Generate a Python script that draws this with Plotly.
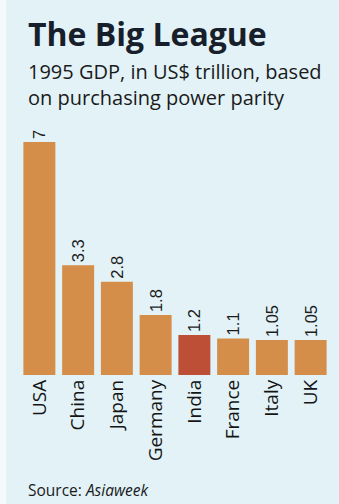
import plotly.graph_objects as go

countries = ["USA", "China", "Japan", "Germany", "India", "France", "Italy", "UK"]
gdp = [7, 3.3, 2.8, 1.8, 1.2, 1.1, 1.05, 1.05]
gdp_labels = ["7", "3.3", "2.8", "1.8", "1.2", "1.1", "1.05", "1.05"]

ORANGE = "#d58d4a"
RED = "#be4f37"
BG = "#e2f2f7"
colors = [RED if c == "India" else ORANGE for c in countries]

W, H = 339, 504
ML, MR, MT, MB = 20, 9, 120, 129

fig = go.Figure(
    go.Bar(
        x=countries,
        y=gdp,
        marker=dict(color=colors, line=dict(width=0)),
        text=gdp_labels,
        textposition="outside",
        textangle=-90,
        textfont=dict(family="Liberation Sans, Arial, sans-serif", size=16.5, color="#1d1d1d"),
        cliponaxis=False,
        hoverinfo="skip",
    )
)

fig.update_layout(
    width=W,
    height=H,
    margin=dict(l=ML, r=MR, t=MT, b=MB),
    paper_bgcolor=BG,
    plot_bgcolor=BG,
    bargap=0.175,
    showlegend=False,
    xaxis=dict(
        tickangle=-90,
        tickfont=dict(family="Open Sans, sans-serif", size=19, color="#151515"),
        showgrid=False,
        zeroline=False,
        showline=False,
        ticks="",
        ticklen=0,
        automargin=False,
    ),
    yaxis=dict(
        range=[0, 7.66],
        visible=False,
        showgrid=False,
        zeroline=False,
    ),
)


# helpers: pixel position on the page -> paper coordinates
def px_x(px):
    return (px - ML) / (W - ML - MR)


def px_y(px):
    return (H - MB - px) / (H - MT - MB)


def add_text(text, left, middle, size, bold=False):
    fig.add_annotation(
        text=f"<b>{text}</b>" if bold else text,
        x=px_x(left), y=px_y(middle), xref="paper", yref="paper",
        xanchor="left", yanchor="middle", align="left", showarrow=False,
        font=dict(family="Open Sans, sans-serif", size=size, color="#17202a" if bold else "#1a1a1a"),
    )


add_text("The Big League", 26, 33, 32, bold=True)
add_text("1995 GDP, in US$ trillion, based<br>on purchasing power parity", 26, 84, 20)
add_text("Source: <i>Asiaweek</i>", 26, 490, 15.5)

# pale strip along the left edge of the page
fig.add_shape(type="rect", xref="paper", yref="paper", x0=px_x(0), x1=px_x(6), y0=px_y(H), y1=px_y(0),
              fillcolor="#f3fafb", line=dict(width=0), layer="below")

fig.write_html("out.html")
